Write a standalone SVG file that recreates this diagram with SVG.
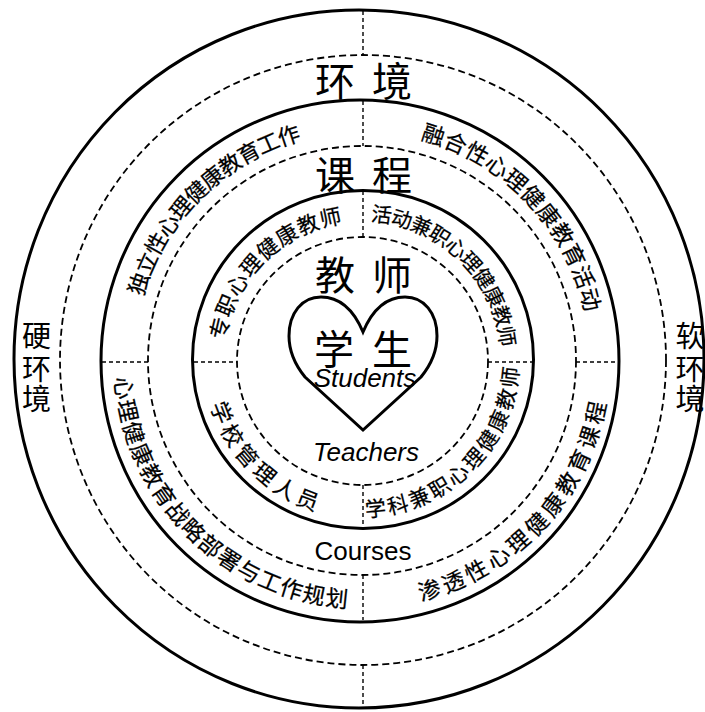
<svg xmlns="http://www.w3.org/2000/svg" width="705" height="712" viewBox="0 0 705 712">
<style>
.solid{fill:none;stroke:#000;stroke-width:3}
.dash{fill:none;stroke:#000;stroke-width:1.8;stroke-dasharray:7 4}
.sep{fill:none;stroke:#000;stroke-width:1.4;stroke-dasharray:4 3}
.cjk{font-family:"Noto Sans CJK SC","Noto Sans",sans-serif;fill:#000}
.big{font-size:40px;text-anchor:middle;dominant-baseline:central}
.vert{font-size:29px;text-anchor:middle;dominant-baseline:central}
.arc{dominant-baseline:central;stroke:#000;stroke-width:0.25}
.en{font-family:"Liberation Sans",Arial,sans-serif;fill:#000;font-size:26px;text-anchor:middle}
</style>
<defs>
<path id="p1" d="M130.0,306.9 A238,238 0 0 1 320.3,125.7"/>
<path id="p2" d="M409.9,126.9 A238,238 0 0 1 598.3,331.4"/>
<path id="p3" d="M124.0,362.9 A238,238 0 0 0 370.3,597.9"/>
<path id="p4" d="M404.6,594.2 A238,238 0 0 0 599.2,379.9"/>
<path id="p5" d="M214.5,347.9 A148,148 0 0 1 355.8,212.1"/>
<path id="p6" d="M361.2,212.0 A148,148 0 0 1 510.0,361.0"/>
<path id="p7" d="M217.5,392.0 A148,148 0 0 0 332.7,505.1"/>
<path id="p8" d="M354.8,507.8 A148,148 0 0 0 509.8,351.7"/>
<path id="pc" d="M262,639 A1100,1100 0 0 0 466,639"/>
</defs>

<g id="rings">
<ellipse id="outer" class="solid" cx="359" cy="359" rx="345" ry="349"/>
<ellipse id="outer-dash" class="dash" cx="363" cy="360" rx="303" ry="305"/>
<ellipse id="courses-ring" class="solid" cx="360" cy="361" rx="259" ry="261"/>
<ellipse id="courses-dash" class="dash" cx="362" cy="360.5" rx="214" ry="214.5"/>
<ellipse id="teachers-ring" class="solid" cx="363" cy="359.5" rx="170.5" ry="169"/>
<ellipse id="inner-dash" class="dash" cx="362.5" cy="361" rx="125.5" ry="124"/>
</g>

<g id="connectors">
<line class="sep" x1="363" y1="11" x2="363" y2="54"/>
<line class="sep" x1="363" y1="101" x2="363" y2="146"/>
<line class="sep" x1="363" y1="191" x2="363" y2="237"/>
<line class="sep" x1="363" y1="485" x2="363" y2="527"/>
<line class="sep" x1="363" y1="575" x2="363" y2="620"/>
<line class="sep" x1="363" y1="665" x2="363" y2="707"/>
<line class="sep" x1="102" y1="362" x2="148" y2="362"/>
<line class="sep" x1="194" y1="362" x2="237" y2="362"/>
<line class="sep" x1="488" y1="362" x2="533" y2="362"/>
<line class="sep" x1="576" y1="362" x2="618" y2="362"/>
</g>

<g id="environment">
<text class="cjk big" x="335" y="79">环</text>
<text class="cjk big" x="392" y="79">境</text>
<text class="en" x="364" y="644"><textPath href="#pc" startOffset="50%">Circumstances</textPath></text>
</g>

<g id="hard-environment">
<text class="cjk vert" x="36.5" y="334">硬</text>
<text class="cjk vert" x="36.5" y="367">环</text>
<text class="cjk vert" x="36.5" y="397">境</text>
</g>

<g id="soft-environment">
<text class="cjk vert" x="690" y="334">软</text>
<text class="cjk vert" x="690" y="367">环</text>
<text class="cjk vert" x="690" y="397">境</text>
</g>

<g id="courses">
<text class="cjk big" x="335" y="173">课</text>
<text class="cjk big" x="392" y="173">程</text>
<text class="en" x="363" y="560">Courses</text>
<text class="cjk arc" font-size="22" letter-spacing="0"><textPath href="#p1" startOffset="13.9">独立性心理健康教育工作</textPath></text>
<text class="cjk arc" font-size="22.5" letter-spacing="1.4"><textPath href="#p2" startOffset="13.7">融合性心理健康教育活动</textPath></text>
<text class="cjk arc" font-size="22.5" letter-spacing="0.4"><textPath href="#p3" startOffset="13.7">心理健康教育战略部署与工作规划</textPath></text>
<text class="cjk arc" font-size="22.5" letter-spacing="2.8"><textPath href="#p4" startOffset="13.7">渗透性心理健康教育课程</textPath></text>
</g>

<g id="teachers">
<text class="cjk big" x="335" y="273">教</text>
<text class="cjk big" x="392" y="273">师</text>
<text class="en" x="366" y="461" font-style="italic">Teachers</text>
<text class="cjk arc" font-size="21.5" letter-spacing="2.4"><textPath href="#p5" startOffset="9.95">专职心理健康教师</textPath></text>
<text class="cjk arc" font-size="20.5" letter-spacing="0.4"><textPath href="#p6" startOffset="10.45">活动兼职心理健康教师</textPath></text>
<text class="cjk arc" font-size="22" letter-spacing="2.9"><textPath href="#p7" startOffset="9.7">学校管理人员</textPath></text>
<text class="cjk arc" font-size="21" letter-spacing="1.4"><textPath href="#p8" startOffset="10.2">学科兼职心理健康教师</textPath></text>
</g>

<g id="students">
<path class="solid" d="M363,332 C352,306 336,297 321,297 C302,297 289,313 289,336 C289,352 296,366 305,377 L363,430 L421,377 C430,366 437,352 437,336 C437,313 424,297 405,297 C390,297 374,306 363,332 Z"/>
<text class="cjk big" x="334" y="347">学</text>
<text class="cjk big" x="392" y="347">生</text>
<text class="en" x="365" y="387" font-style="italic">Students</text>
</g>
</svg>
